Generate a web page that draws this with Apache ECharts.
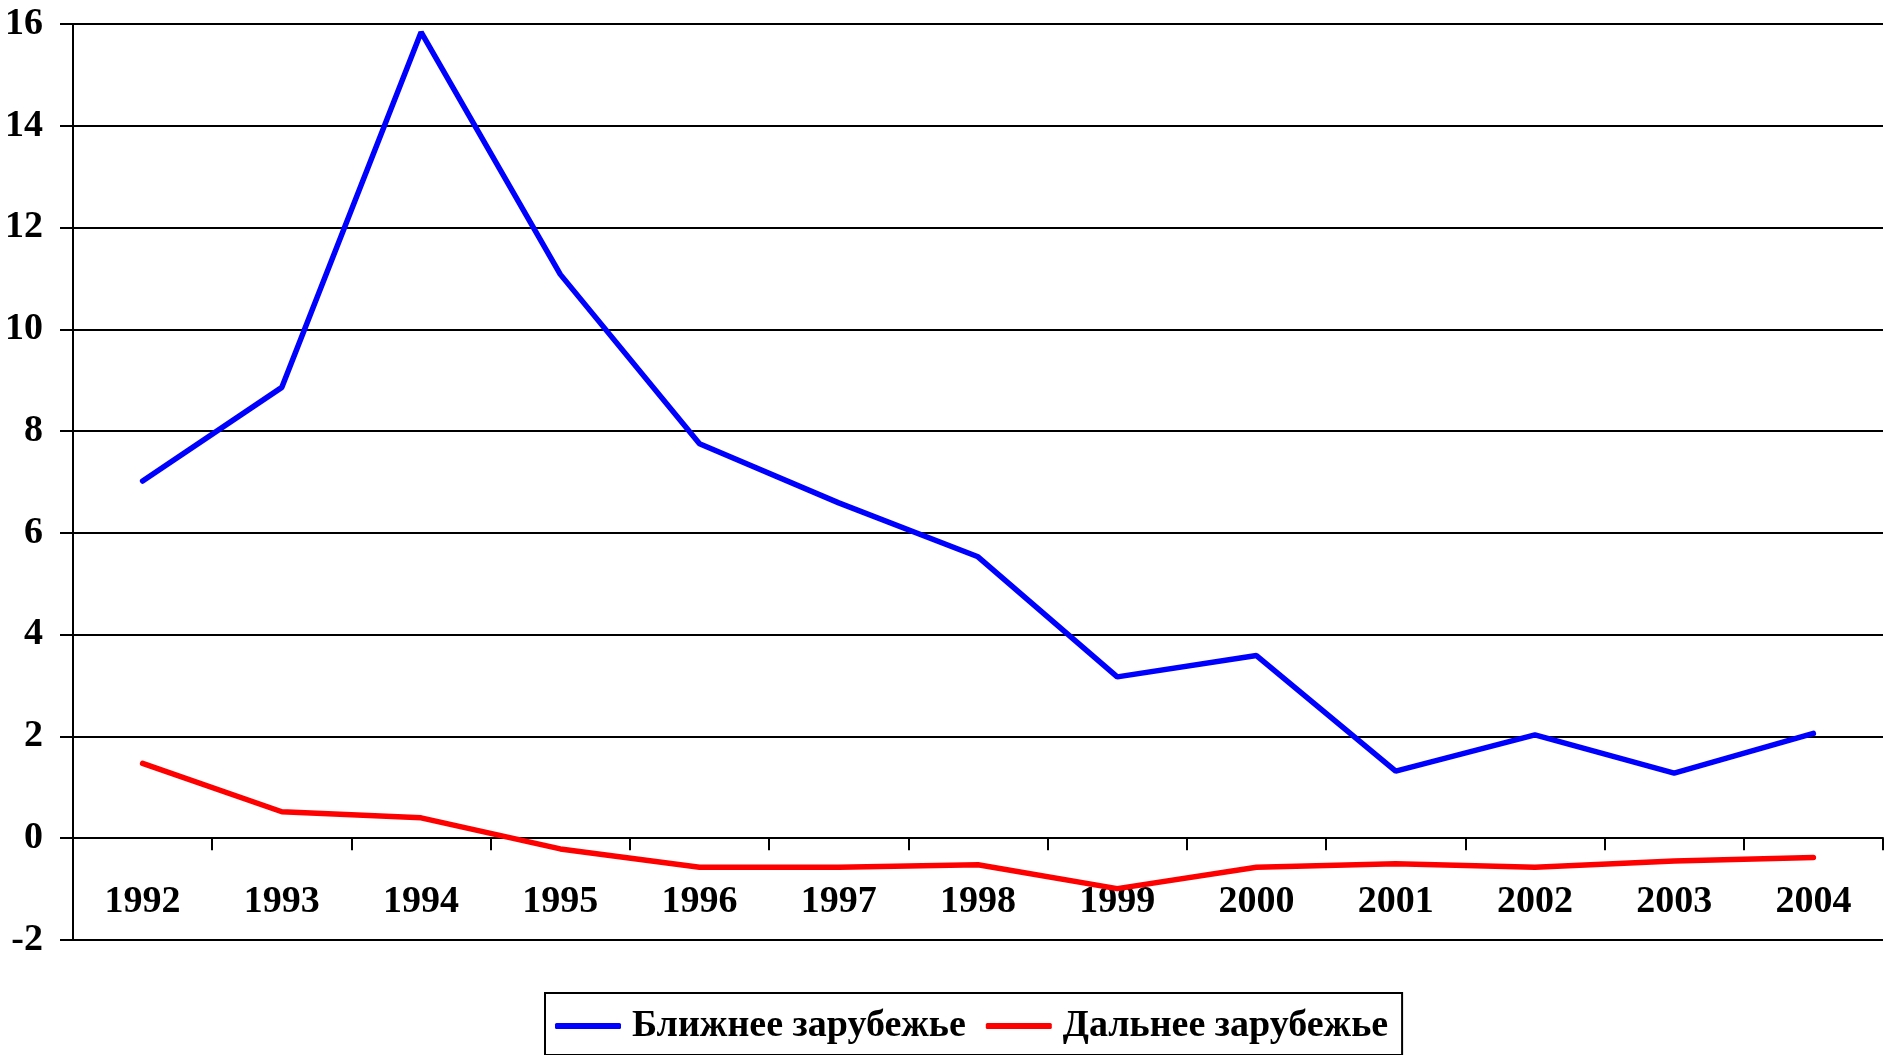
<!DOCTYPE html>
<html>
<head>
<meta charset="utf-8">
<script src="https://cdn.jsdelivr.net/npm/echarts@6/dist/echarts.min.js"></script>
<style>
    html, body { margin: 0; padding: 0; background: #fff; }
    #chart { width: 1886px; height: 1055px; }
</style>
</head>
<body>
<div id="chart"></div>
<script>
// годы
var years = ['1992', '1993', '1994', '1995', '1996', '1997', '1998', '1999', '2000', '2001', '2002', '2003', '2004'];
// Ближнее зарубежье
var nearAbroad = [7.02, 8.86, 15.84, 11.08, 7.75, 6.59, 5.53, 3.17, 3.59, 1.32, 2.03, 1.28, 2.06];
// Дальнее зарубежье
var farAbroad = [1.47, 0.52, 0.40, -0.21, -0.57, -0.57, -0.52, -0.99, -0.57, -0.50, -0.57, -0.45, -0.38];

var font = 'Liberation Serif';

var chart = echarts.init(document.getElementById('chart'));

var option = {
    animation: false,
    backgroundColor: '#fff',
    grid: {
        left: 73,
        right: 3,
        top: 24,
        bottom: 115
    },
    legend: {
        data: ['Ближнее зарубежье', 'Дальнее зарубежье'],
        left: 545,
        top: 993,
        padding: [14, 14, 10, 10],
        itemGap: 20,
        itemWidth: 66,
        itemHeight: 6,
        icon: 'roundRect',
        borderColor: '#000',
        borderWidth: 2,
        textStyle: {
            fontFamily: font,
            fontWeight: 'bold',
            fontSize: 38,
            color: '#000',
            padding: [0, 0, 0, 6]
        }
    },
    xAxis: {
        type: 'category',
        data: years,
        boundaryGap: true,
        axisLine: { onZero: true, lineStyle: { color: '#000', width: 2 } },
        axisTick: { show: true, length: 12, lineStyle: { color: '#000', width: 2 } },
        axisLabel: {
            margin: -57,
            fontFamily: font,
            fontWeight: 'bold',
            fontSize: 38,
            color: '#000'
        },
        splitLine: { show: false }
    },
    yAxis: {
        type: 'value',
        min: -2,
        max: 16,
        interval: 2,
        axisLine: { show: true, lineStyle: { color: '#000', width: 2 } },
        axisTick: { show: true, length: 13, lineStyle: { color: '#000', width: 2 } },
        axisLabel: {
            margin: 30,
            fontFamily: font,
            fontWeight: 'bold',
            fontSize: 38,
            color: '#000'
        },
        splitLine: { show: true, lineStyle: { color: '#000', width: 2 } }
    },
    series: [
        {
            name: 'Ближнее зарубежье',
            type: 'line',
            data: nearAbroad,
            showSymbol: false,
            color: '#0000ff',
            lineStyle: { color: '#0000ff', width: 5.5, cap: 'round' }
        },
        {
            name: 'Дальнее зарубежье',
            type: 'line',
            data: farAbroad,
            showSymbol: false,
            color: '#ff0000',
            lineStyle: { color: '#ff0000', width: 5.5, cap: 'round' }
        }
    ]
};

chart.setOption(option);
</script>
</body>
</html>
